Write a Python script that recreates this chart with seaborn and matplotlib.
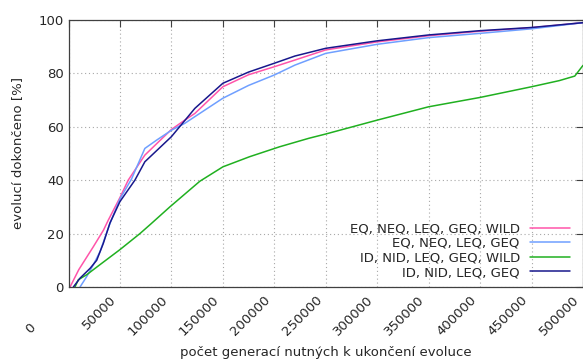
import numpy as np
import pandas as pd
import seaborn as sns
import matplotlib.pyplot as plt
from matplotlib.transforms import ScaledTranslation

# readings (x = generations, y = % finished)
pink_x = [1500, 10000, 24000, 34000, 38600, 50000, 58000, 74200, 100000, 113000,
          122800, 150000, 175000, 200000, 220000, 250000, 300000, 350000, 400000, 450000, 500000]
pink_y = [0, 6.5, 15, 21.3, 25, 33.5, 40, 49.4, 59, 62.5,
          65, 75, 79.5, 82.5, 85, 88.8, 91.8, 94.1, 95.8, 97.1, 99]

light_x = [11200, 17700, 24100, 30600, 40300, 50000, 61300, 74200, 85600, 100000, 113000,
           122800, 150000, 175000, 200000, 220000, 250000, 300000, 350000, 400000, 450000, 500000]
light_y = [0, 3.9, 8.3, 13.2, 23.8, 33, 40.5, 51.9, 55, 58.7, 61.3,
           63.8, 70.7, 75.5, 79.4, 83.1, 87.5, 90.9, 93.4, 95.0, 96.7, 99]

green_x = [6300, 9500, 17700, 30000, 50000, 69400, 80000, 98500, 127600, 150000, 176000,
           205000, 233600, 250000, 300000, 350000, 400000, 450000, 477000, 492000, 500000]
green_y = [0, 2.7, 4.6, 8.2, 14, 20, 23.6, 30, 39.6, 45, 48.8,
           52.5, 55.7, 57.3, 62.5, 67.5, 71, 75, 77.3, 79, 83]

dark_x = [4700, 11200, 21000, 27400, 33800, 40300, 50000, 64500, 74200, 100000, 122800,
          150000, 175000, 200000, 220000, 250000, 300000, 350000, 400000, 450000, 500000]
dark_y = [0, 3.3, 7, 10, 16.3, 24, 32, 40, 46.9, 56.3, 66.9,
          76.3, 80.5, 83.8, 86.5, 89.4, 92.2, 94.4, 96, 97.2, 99]

labels = ["EQ, NEQ, LEQ, GEQ, WILD", "EQ, NEQ, LEQ, GEQ",
          "ID, NID, LEQ, GEQ, WILD", "ID, NID, LEQ, GEQ"]
colors = ["#ff55aa", "#6f9fff", "#20b020", "#18188c"]
xticks = [0, 50000, 100000, 150000, 200000, 250000, 300000, 350000, 400000, 450000, 500000]
yticks = [0, 20, 40, 60, 80, 100]

df = pd.concat([
    pd.DataFrame({"x": pink_x, "y": pink_y, "s": labels[0]}),
    pd.DataFrame({"x": light_x, "y": light_y, "s": labels[1]}),
    pd.DataFrame({"x": green_x, "y": green_y, "s": labels[2]}),
    pd.DataFrame({"x": dark_x, "y": dark_y, "s": labels[3]}),
])

sns.set_style("white")
plt.rcParams['font.family'] = ['DejaVu Sans']
plt.rcParams['font.size'] = 9.5

fig = plt.figure(figsize=(5.83, 3.61), dpi=100)
ax = fig.add_axes([68.5 / 583, 1 - 287 / 361, 1 - 68.5 / 583, 267 / 361])

sns.lineplot(data=df, x="x", y="y", hue="s", hue_order=labels,
             palette=dict(zip(labels, colors)), sort=False, estimator=None,
             linewidth=1.1, ax=ax)

ax.set_xlim(0, 500000)
ax.set_ylim(0, 100)
ax.set_xticks(xticks)
ax.set_yticks(yticks)
ax.set_xticklabels([str(t) for t in xticks], rotation=45, ha="right", va="center",
                   rotation_mode="anchor")
ax.tick_params(direction="in", length=5, width=0.8, color="#404040",
               top=True, right=True, labelsize=9.5)
ax.tick_params(axis="x", pad=8)
ax.grid(True, linestyle=(0, (1, 2.5)), color="#a8a8a8", linewidth=0.8)
for sp in ax.spines.values():
    sp.set_color("#404040")
    sp.set_linewidth(0.9)

# shift the rotated labels a bit left, the "0" one oddly far out like gnuplot
for i, lab in enumerate(ax.get_xticklabels()):
    if i == 0:
        off = ScaledTranslation(-0.35, -0.27, fig.dpi_scale_trans)
    else:
        off = ScaledTranslation(-0.06, 0, fig.dpi_scale_trans)
    lab.set_transform(lab.get_transform() + off)

ax.set_xlabel("počet generací nutných k ukončení evoluce", fontsize=9.5)
ax.xaxis.set_label_coords(0.5, -(346 - 287) / 267)
ax.set_ylabel("evolucí dokončeno [%]", fontsize=9.5, labelpad=10)

ax.legend(loc="lower right", frameon=False, markerfirst=False, handlelength=3.0,
          labelspacing=0.12, fontsize=9.5, borderaxespad=0.0, bbox_to_anchor=(0.985, 0.01))

fig.savefig("out.png", dpi=100)
